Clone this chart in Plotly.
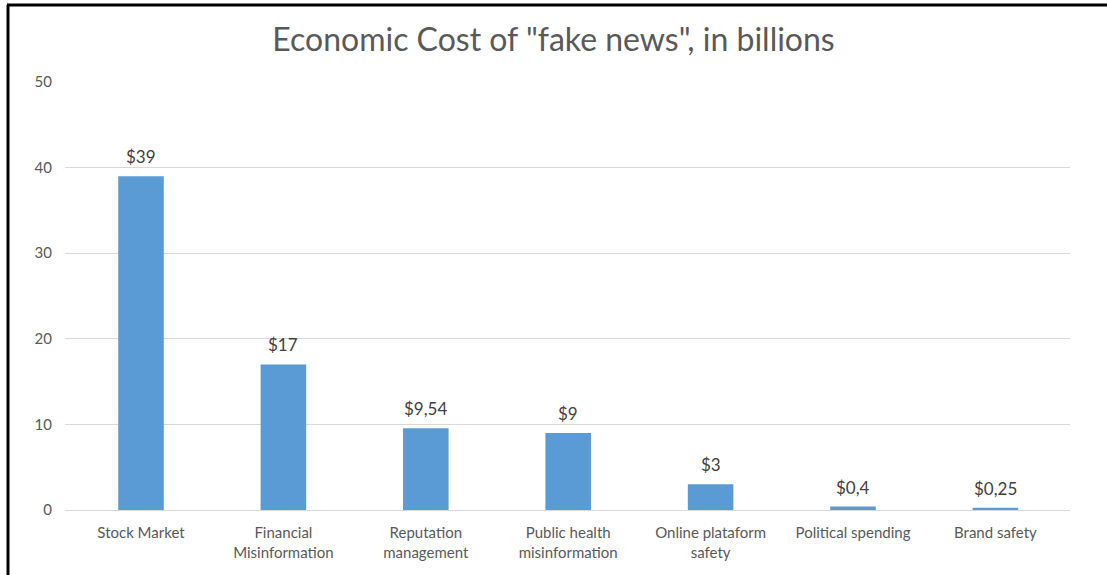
import plotly.graph_objects as go

categories = ["Stock Market", "Financial<br>Misinformation", "Reputation<br>management",
              "Public health<br>misinformation", "Online plataform<br>safety",
              "Political spending", "Brand safety"]
values = [39, 17, 9.54, 9, 3, 0.4, 0.25]
y_ticks = [0, 10, 20, 30, 40, 50]
title_text = 'Economic Cost of "fake news", in billions'

labels = ["$" + f"{v:g}".replace(".", ",") for v in values]

FONT = "Lato, 'Open Sans', sans-serif"
W, H = 1107, 575
ML, MR, MT, MB = 65, 37, 82, 65

fig = go.Figure()
fig.add_trace(go.Bar(
    x=categories, y=values,
    marker=dict(color="#5B9BD5", line=dict(width=0)),
    width=0.32,
    hoverinfo="x+y",
))

for c, v, t in zip(categories, values, labels):
    fig.add_annotation(x=c, y=v, text=t, showarrow=False, yanchor="bottom",
                       yshift=7, font=dict(family=FONT, size=17, color="#404040"))

pw = W - ML - MR
ph = H - MT - MB
def px_to_paper_x(px):
    return (px - ML) / pw
def py_to_paper_y(py):
    return (H - MB - py) / ph

# outer frame (left and top edges of the chart box)
fig.add_shape(type="line", xref="paper", yref="paper",
              x0=px_to_paper_x(8), x1=px_to_paper_x(8),
              y0=py_to_paper_y(5), y1=py_to_paper_y(580),
              line=dict(color="black", width=3))
fig.add_shape(type="line", xref="paper", yref="paper",
              x0=px_to_paper_x(7), x1=px_to_paper_x(1110),
              y0=py_to_paper_y(5), y1=py_to_paper_y(5),
              line=dict(color="black", width=3))

center0 = 141
step = 142.4
left = -(center0 - ML) / step
right = left + pw / step

fig.update_layout(
    width=W, height=H,
    margin=dict(l=ML, r=MR, t=MT, b=MB),
    paper_bgcolor="white", plot_bgcolor="white",
    title=dict(text=title_text, x=0.5, xref="container", xanchor="center",
               y=1 - 40 / H, yanchor="middle",
               font=dict(family=FONT, size=32, color="#595959")),
    showlegend=False,
    xaxis=dict(range=[left, right], showgrid=False, showline=False, ticks="",
               tickfont=dict(family=FONT, size=15, color="#595959"),
               ticklabelstandoff=12, zeroline=False),
    yaxis=dict(range=[0, 50], tickvals=y_ticks, showgrid=True, gridcolor="#D9D9D9",
               gridwidth=1, zeroline=True, zerolinecolor="#D9D9D9", zerolinewidth=1,
               showline=False, ticks="",
               tickfont=dict(family=FONT, size=15, color="#595959"),
               ticklabelstandoff=12),
)

fig.write_html("out.html")
